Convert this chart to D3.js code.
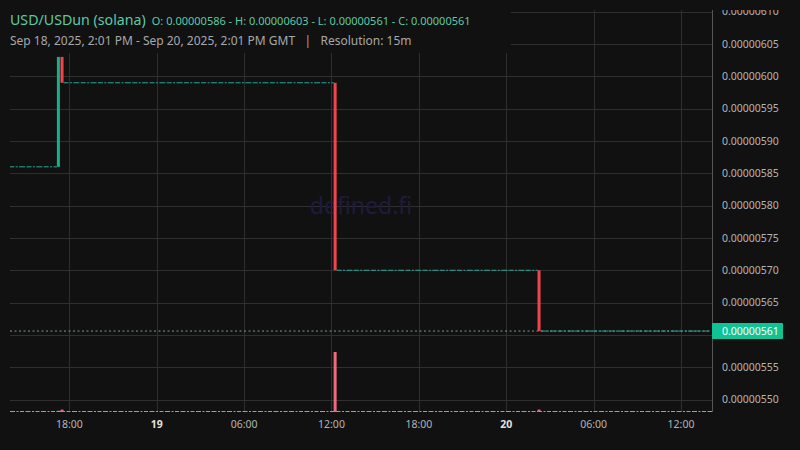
<!DOCTYPE html>
<html>
<head>
<meta charset="utf-8">
<script src="https://cdn.jsdelivr.net/npm/d3@7"></script>
<style>
  html, body { margin: 0; padding: 0; background: #111111; }
  svg { display: block; }
  text { font-family: "Noto Sans", "Open Sans", sans-serif; }
</style>
</head>
<body>
<svg id="chart" width="800" height="450"></svg>
<script>
// ---------------- data ----------------
const titleText = "USD/USDun (solana)";
const ohlcText = "O: 0.00000586 - H: 0.00000603 - L: 0.00000561 - C: 0.00000561";
const subtitleText = "Sep 18, 2025, 2:01 PM - Sep 20, 2025, 2:01 PM GMT   |   Resolution: 15m";
const watermarkText = "defined.fi";

const rangeStart = "2025-09-18T14:01:00Z";
const rangeEnd = "2025-09-20T14:01:00Z";

// moving candles (15m resolution, open time)
const candleTimes = ["2025-09-18T17:15:00Z", "2025-09-18T17:30:00Z", "2025-09-19T12:15:00Z", "2025-09-20T02:15:00Z"];
const candleOpen  = [0.00000586, 0.00000603, 0.00000599, 0.00000570];
const candleHigh  = [0.00000603, 0.00000603, 0.00000599, 0.00000570];
const candleLow   = [0.00000586, 0.00000599, 0.00000570, 0.000005606];
const candleClose = [0.00000603, 0.00000599, 0.00000570, 0.000005606];
const candleVolume = [2, 4, 100, 4];

// flat (unchanged-price) stretches between those candles
const flatStart = ["2025-09-18T14:01:00Z", "2025-09-18T17:30:00Z", "2025-09-19T12:15:00Z", "2025-09-20T02:15:00Z"];
const flatEnd   = ["2025-09-18T17:15:00Z", "2025-09-19T12:15:00Z", "2025-09-20T02:15:00Z", "2025-09-20T14:01:00Z"];
const flatPrice = [0.00000586, 0.00000599, 0.00000570, 0.000005606];

const lastPrice = 0.000005606;

const yTicks = [0.00000550, 0.00000555, 0.00000560, 0.00000565, 0.00000570, 0.00000575, 0.00000580,
                0.00000585, 0.00000590, 0.00000595, 0.00000600, 0.00000605, 0.00000610];
const xTickTimes = ["2025-09-18T18:00:00Z", "2025-09-19T00:00:00Z", "2025-09-19T06:00:00Z", "2025-09-19T12:00:00Z",
                    "2025-09-19T18:00:00Z", "2025-09-20T00:00:00Z", "2025-09-20T06:00:00Z", "2025-09-20T12:00:00Z"];
const xTickLabels = ["18:00", "19", "06:00", "12:00", "18:00", "20", "06:00", "12:00"];
const xTickBold = [false, true, false, false, false, true, false, false];

// ---------------- layout ----------------
const plotL = 10, plotR = 712, plotT = 10, plotB = 412;
const svg = d3.select("#chart");
const parse = d => new Date(d);

const x = d3.scaleUtc().domain([parse(rangeStart), parse(rangeEnd)]).range([11.3, 710.4]);
const y = d3.scaleLinear().domain([0.00000550, 0.00000600]).range([399.6, 76.3]);
const yVol = d3.scaleLinear().domain([0, 100]).range([plotB, 352]);

const fmt = v => v.toFixed(8);

svg.append("rect").attr("width", 800).attr("height", 450).attr("fill", "#111111");

svg.append("defs").append("clipPath").attr("id", "plotClip")
  .append("rect").attr("x", plotL).attr("y", plotT).attr("width", plotR - plotL).attr("height", plotB - plotT);

const plot = svg.append("g").attr("clip-path", "url(#plotClip)");

// grid
plot.append("g").selectAll("line.h").data(yTicks).join("line")
  .attr("x1", plotL).attr("x2", plotR)
  .attr("y1", d => Math.round(y(d)) + 0.5).attr("y2", d => Math.round(y(d)) + 0.5)
  .attr("stroke", "#2f2f2f").attr("stroke-width", 1);
plot.append("g").selectAll("line.v").data(xTickTimes).join("line")
  .attr("x1", d => Math.round(x(parse(d))) + 0.5).attr("x2", d => Math.round(x(parse(d))) + 0.5)
  .attr("y1", plotT).attr("y2", plotB)
  .attr("stroke", "#2f2f2f").attr("stroke-width", 1);

// watermark
plot.append("text").attr("x", 361).attr("y", 214).attr("text-anchor", "middle")
  .attr("font-size", 23).attr("fill", "#1f1c3b").text(watermarkText);

// volume baseline (tiny volumes)
plot.append("line").attr("x1", plotL).attr("x2", plotR).attr("y1", 411.5).attr("y2", 411.5)
  .attr("stroke", "#5fbfa0").attr("stroke-width", 1).attr("stroke-dasharray", "5,1.5,2,1.5,4,1.5");

// volume bars
const barW = 3;
plot.append("g").selectAll("rect").data(candleTimes).join("rect")
  .attr("x", (d, i) => x(parse(d)) - barW / 2)
  .attr("width", barW)
  .attr("y", (d, i) => yVol(candleVolume[i]))
  .attr("height", (d, i) => plotB - yVol(candleVolume[i]))
  .attr("fill", (d, i) => candleClose[i] >= candleOpen[i] ? "#5fbfa0" : "#ee6a80");

// current price dotted line
plot.append("line").attr("x1", plotL).attr("x2", plotR)
  .attr("y1", y(lastPrice)).attr("y2", y(lastPrice))
  .attr("stroke", "#8fcfc0").attr("stroke-opacity", 0.75).attr("stroke-width", 1).attr("stroke-dasharray", "2,2.5");

// flat stretches
plot.append("g").selectAll("line").data(flatPrice).join("line")
  .attr("x1", (d, i) => x(parse(flatStart[i])) + (i === 0 ? -2 : barW / 2))
  .attr("x2", (d, i) => x(parse(flatEnd[i])) - barW / 2)
  .attr("y1", d => y(d)).attr("y2", d => y(d))
  .attr("stroke", "#2aa89b").attr("stroke-width", 1)
  .attr("stroke-dasharray", "5,1.4,2,1.4,6,1.4");

// candles
plot.append("g").selectAll("rect").data(candleTimes).join("rect")
  .attr("x", (d, i) => x(parse(d)) - barW / 2)
  .attr("width", barW)
  .attr("y", (d, i) => y(Math.max(candleOpen[i], candleClose[i])))
  .attr("height", (d, i) => Math.max(1, Math.abs(y(candleOpen[i]) - y(candleClose[i]))))
  .attr("fill", (d, i) => candleClose[i] >= candleOpen[i] ? "#13b28b" : "#f2444f");

// right axis line
svg.append("line").attr("x1", plotR + 0.5).attr("x2", plotR + 0.5).attr("y1", plotT).attr("y2", plotB)
  .attr("stroke", "#555555").attr("stroke-width", 1);

// y-axis labels (clipped at top)
svg.append("defs").append("clipPath").attr("id", "axisClip")
  .append("rect").attr("x", plotR).attr("y", plotT).attr("width", 88).attr("height", plotB - plotT + 10);
const yAxis = svg.append("g").attr("clip-path", "url(#axisClip)");
yAxis.selectAll("text").data(yTicks.filter(t => Math.abs(t - 0.00000560) > 1e-12)).join("text")
  .attr("x", 722).attr("y", d => y(d)).attr("dy", "0.36em")
  .attr("font-size", 10.5).attr("fill", "#b4b4b4").text(d => fmt(d));

// current price label
svg.append("rect").attr("x", plotR).attr("y", y(lastPrice) - 8).attr("width", 71).attr("height", 16)
  .attr("rx", 1).attr("fill", "#10c394");
svg.append("text").attr("x", 722).attr("y", y(lastPrice)).attr("dy", "0.36em")
  .attr("font-size", 10.5).attr("fill", "#ffffff").text(fmt(lastPrice));

// x-axis labels
svg.append("g").selectAll("text").data(xTickTimes).join("text")
  .attr("x", d => x(parse(d))).attr("y", 424).attr("dy", "0.36em")
  .attr("text-anchor", "middle").attr("font-size", 10.5)
  .attr("font-weight", (d, i) => xTickBold[i] ? "bold" : "normal")
  .attr("fill", (d, i) => xTickBold[i] ? "#e0e0e0" : "#b4b4b4")
  .text((d, i) => xTickLabels[i]);

// legend box
svg.append("rect").attr("x", 0).attr("y", 0).attr("width", 511).attr("height", 53).attr("fill", "#111111");
const t1 = svg.append("text").attr("x", 10).attr("y", 25);
t1.append("tspan").attr("font-size", 14.2).attr("fill", "#5cc9a4").text(titleText);
t1.append("tspan").attr("dx", 6).attr("font-size", 11).attr("fill", "#5cc9a4").text(ohlcText);
svg.append("text").attr("x", 10).attr("y", 45).attr("font-size", 12).attr("fill", "#a8a8a8")
  .attr("xml:space", "preserve").style("white-space", "pre").text(subtitleText);
</script>
</body>
</html>
